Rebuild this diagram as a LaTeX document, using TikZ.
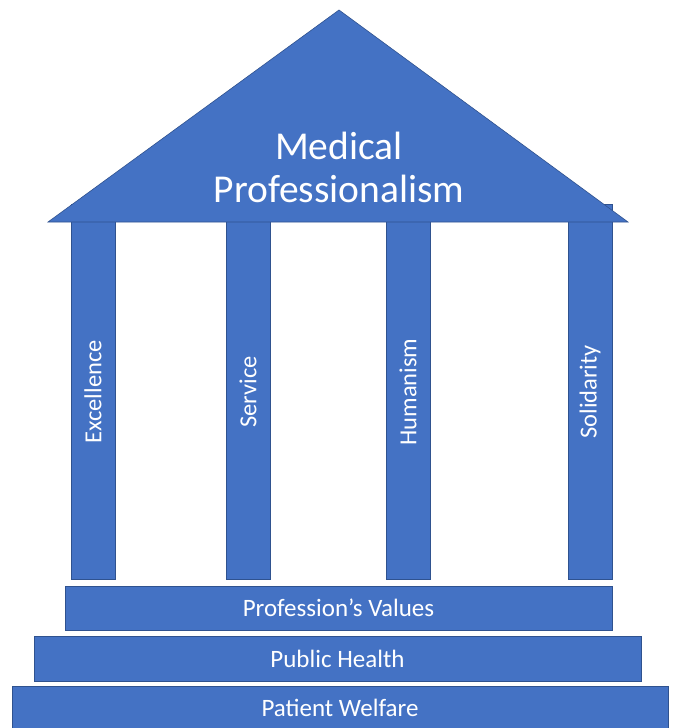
\documentclass[tikz,border=0pt]{standalone}
\usepackage{fontspec}
\setmainfont{Carlito}
\usepackage{xcolor}
\usetikzlibrary{positioning}
\definecolor{houseblue}{HTML}{4472C4}
\definecolor{edgeblue}{HTML}{2F528F}
\tikzset{
  block/.style={fill=houseblue, draw=edgeblue, line width=0.6pt, text=white, inner sep=0pt},
  pillar/.style={block, rotate=90, minimum width=375pt, minimum height=44pt, font=\fontsize{24.5}{28}\selectfont},
  stepbox/.style={block, minimum height=44pt, font=\fontsize{25}{29}\selectfont},
  rooftext/.style={text=white, align=center, inner sep=0pt, font=\fontsize{39.5}{43}\selectfont}
}

\begin{document}
\begin{tikzpicture}[x=1pt,y=-1pt]
\useasboundingbox (0,0) rectangle (676,728);
\foreach \n/\x/\t in {exc/93/Excellence, ser/248/Service, hum/408/Humanism, sol/590/Solidarity}
  \node [pillar] (\n) at (\x,392) {\t};

\draw [block] (48,222) -- (339,10) -- (628,222) -- cycle;
\node [rooftext] (roof) at (339,167) {Medical\\Professionalism};

\node [stepbox, minimum width=547pt] (values) at (338.5,608) {Profession’s Values};
\node [stepbox, minimum width=607pt, minimum height=45pt] (health) at (337.5,658.5) {Public Health};
\node [stepbox, minimum width=656pt] (welfare) at (340,708) {Patient Welfare};
\end{tikzpicture}
\end{document}
